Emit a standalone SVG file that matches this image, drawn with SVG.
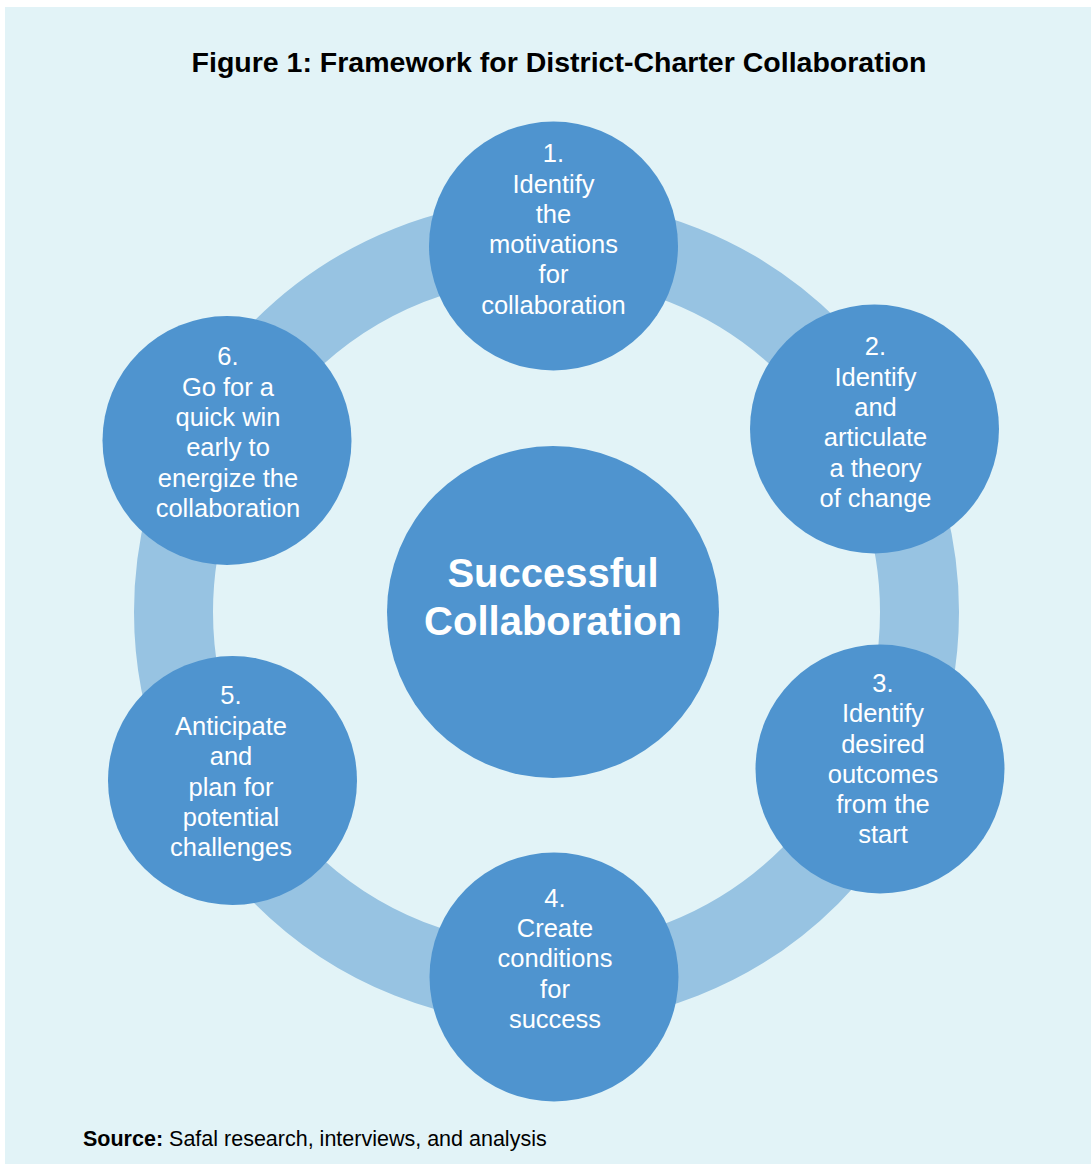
<svg xmlns="http://www.w3.org/2000/svg" width="1091" height="1165" viewBox="0 0 1091 1165">
<style>
.node{fill:#4f94cf}
.lbl{font-family:"Liberation Sans",Arial,Helvetica,sans-serif;font-size:25.5px;fill:#ffffff;text-anchor:middle}
.title{font-family:"Liberation Sans",Arial,Helvetica,sans-serif;font-size:28.5px;font-weight:bold;fill:#000000;text-anchor:middle}
.center{font-family:"Liberation Sans",Arial,Helvetica,sans-serif;font-size:40px;font-weight:bold;fill:#ffffff;text-anchor:middle}
.src{font-family:"Liberation Sans",Arial,Helvetica,sans-serif;font-size:21.5px;fill:#000000}
</style>
<rect x="0" y="0" width="1091" height="1165" fill="#ffffff"/>
<rect x="5" y="7" width="1086" height="1157" fill="#e2f3f7"/>
<text class="title" x="559" y="72">Figure 1: Framework for District-Charter Collaboration</text>
<g id="connectors">
<circle cx="546.5" cy="612" r="373" fill="none" stroke="#97c3e2" stroke-width="79"/>
</g>
<g id="center">
<circle class="node" cx="553" cy="612" r="166"/>
<text class="center" x="553" y="587">Successful</text>
<text class="center" x="553" y="635">Collaboration</text>
</g>
<g id="node1">
<circle class="node" cx="553.5" cy="246" r="124.5"/>
<text class="lbl" x="553.5"><tspan x="553.5" y="162">1.</tspan><tspan x="553.5" y="192.5">Identify</tspan><tspan x="553.5" y="222.5">the</tspan><tspan x="553.5" y="253">motivations</tspan><tspan x="553.5" y="283">for</tspan><tspan x="553.5" y="313.5">collaboration</tspan></text>
</g>
<g id="node2">
<circle class="node" cx="874.5" cy="429" r="124.5"/>
<text class="lbl" x="875.5"><tspan x="875.5" y="355">2.</tspan><tspan x="875.5" y="385.5">Identify</tspan><tspan x="875.5" y="415.5">and</tspan><tspan x="875.5" y="446">articulate</tspan><tspan x="875.5" y="476.5">a theory</tspan><tspan x="875.5" y="507">of change</tspan></text>
</g>
<g id="node3">
<circle class="node" cx="880" cy="769" r="124.5"/>
<text class="lbl" x="883"><tspan x="883" y="692">3.</tspan><tspan x="883" y="722">Identify</tspan><tspan x="883" y="752.5">desired</tspan><tspan x="883" y="782.5">outcomes</tspan><tspan x="883" y="812.5">from the</tspan><tspan x="883" y="843">start</tspan></text>
</g>
<g id="node4">
<circle class="node" cx="554" cy="977" r="124.5"/>
<text class="lbl" x="555"><tspan x="555" y="907">4.</tspan><tspan x="555" y="937">Create</tspan><tspan x="555" y="967">conditions</tspan><tspan x="555" y="997.5">for</tspan><tspan x="555" y="1028">success</tspan></text>
</g>
<g id="node5">
<circle class="node" cx="232.5" cy="780.5" r="124.5"/>
<text class="lbl" x="231"><tspan x="231" y="704">5.</tspan><tspan x="231" y="735">Anticipate</tspan><tspan x="231" y="765">and</tspan><tspan x="231" y="795.5">plan for</tspan><tspan x="231" y="826">potential</tspan><tspan x="231" y="856">challenges</tspan></text>
</g>
<g id="node6">
<circle class="node" cx="227" cy="440.5" r="124.5"/>
<text class="lbl" x="228"><tspan x="228" y="365">6.</tspan><tspan x="228" y="395.5">Go for a</tspan><tspan x="228" y="426">quick win</tspan><tspan x="228" y="456">early to</tspan><tspan x="228" y="486.5">energize the</tspan><tspan x="228" y="517">collaboration</tspan></text>
</g>
<text class="src" x="83" y="1146"><tspan font-weight="bold">Source:</tspan> Safal research, interviews, and analysis</text>
</svg>
